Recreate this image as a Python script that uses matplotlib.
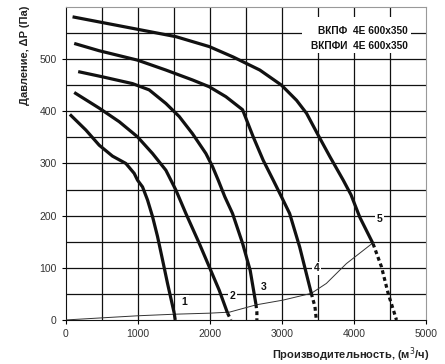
import matplotlib
matplotlib.use("Agg")
import matplotlib.pyplot as plt
from matplotlib.patches import Rectangle

plt.rcParams['font.family'] = ['Liberation Sans', 'DejaVu Sans']

# Fan curves (solid part)
c1_x = [56, 278, 463, 648, 833, 949, 995, 1065, 1134, 1204, 1273, 1343, 1412, 1505]
c1_y = [394, 364, 335, 314, 300, 281, 268, 255, 230, 198, 160, 115, 70, 13]
c1d_x = [1505, 1519]
c1d_y = [13, 0]

c2_x = [116, 463, 741, 995, 1204, 1389, 1528, 1667, 1852, 1991, 2130, 2246]
c2_y = [436, 406, 380, 351, 319, 287, 249, 204, 147, 102, 57, 13]
c2d_x = [2246, 2292]
c2d_y = [13, 0]

c3_x = [171, 509, 926, 1157, 1389, 1574, 1759, 1945, 2037, 2116, 2208, 2315, 2454, 2560, 2640]
c3_y = [476, 466, 453, 441, 415, 390, 357, 319, 294, 268, 236, 204, 147, 95, 30]
c3d_x = [2640, 2653, 2653]
c3d_y = [30, 15, 0]

c4_x = [116, 463, 995, 1389, 1759, 1991, 2222, 2454, 2602, 2741, 2880, 2995, 3108, 3247, 3409]
c4_y = [530, 516, 498, 479, 460, 447, 428, 403, 351, 306, 268, 236, 204, 140, 51]
c4d_x = [3409, 3460, 3479]
c4d_y = [51, 25, 0]

c5_x = [93, 1000, 1528, 1991, 2324, 2694, 2995, 3204, 3343, 3505, 3667, 3852, 3960, 4082, 4267]
c5_y = [581, 557, 543, 524, 504, 479, 450, 421, 396, 354, 313, 268, 240, 197, 146]
c5d_x = [4267, 4383, 4476, 4592]
c5d_y = [146, 102, 51, 0]

# System (network) curve
sys_x = [0, 997, 1507, 1994, 2273, 2644, 3015, 3409, 3618, 3896, 4267]
sys_y = [0, 8, 11, 13, 15, 29, 38, 51, 70, 108, 148]

labels = ['1', '2', '3', '4', '5']
label_x = [1647, 2319, 2746, 3479, 4351]
label_y = [35, 45, 64, 99, 193]

legend_lines = ['ВКПФ  4E 600x350', 'ВКПФИ  4E 600x350']

fig = plt.figure(figsize=(4.45, 3.64), dpi=100)
ax = fig.add_axes([0.148, 0.121, 0.809, 0.860])
ax.set_xlim(0, 5000)
ax.set_ylim(0, 600)

# grid
for gx in range(500, 5000, 500):
    ax.axvline(gx, color='#111111', lw=0.9, zorder=1)
for gy in range(50, 600, 50):
    ax.axhline(gy, color='#111111', lw=0.9, zorder=1)

lw = 2.3
for xs, ys in [(c1_x, c1_y), (c2_x, c2_y), (c3_x, c3_y), (c4_x, c4_y), (c5_x, c5_y)]:
    ax.plot(xs, ys, color='#111111', lw=lw, solid_capstyle='butt', solid_joinstyle='round', zorder=4)
for xs, ys in [(c2d_x, c2d_y), (c3d_x, c3d_y), (c4d_x, c4d_y), (c5d_x, c5d_y)]:
    ax.plot(xs, ys, color='#111111', lw=lw, linestyle=(0, (1.2, 1.0)), zorder=4)
ax.plot(c1d_x, c1d_y, color='#111111', lw=lw, solid_capstyle='butt', zorder=4)

ax.plot(sys_x, sys_y, color='#333333', lw=0.7, zorder=3)

for t, x, y in zip(labels, label_x, label_y):
    ax.text(x, y, t, ha='center', va='center', fontsize=7.5, fontweight='bold',
            color='#111111', zorder=5,
            bbox=dict(facecolor='white', edgecolor='none', pad=1.2))

ax.add_patch(Rectangle((3278, 511), 1514, 69, facecolor='white', edgecolor='none', zorder=2))
ax.text(4750, 553, legend_lines[0], ha='right', va='center', fontsize=7.3,
        fontweight='bold', color='#111111', zorder=5)
ax.text(4750, 525, legend_lines[1], ha='right', va='center', fontsize=7.3,
        fontweight='bold', color='#111111', zorder=5)

ax.set_xticks(range(0, 5001, 1000))
ax.set_yticks(range(0, 501, 100))
ax.tick_params(axis='both', labelsize=7.5, labelcolor='#333333', length=3, width=0.8, direction='out')
for s in ['top', 'right']:
    ax.spines[s].set_color('#999999')
ax.spines['left'].set_color('#111111')
ax.spines['bottom'].set_color('#111111')

ax.set_xlabel('Производительность, (м$^3$/ч)', fontsize=8, fontweight='bold', color='#222222')
ax.xaxis.set_label_coords(1.01, -0.08)
ax.xaxis.label.set_ha('right')
ax.set_ylabel('Давление, ΔP (Па)', fontsize=8, fontweight='bold', color='#222222')
ax.yaxis.set_label_coords(-0.128, 1.005)
ax.yaxis.label.set_va('top')
ax.yaxis.label.set_ha('right')

fig.savefig('out.png', dpi=100)
